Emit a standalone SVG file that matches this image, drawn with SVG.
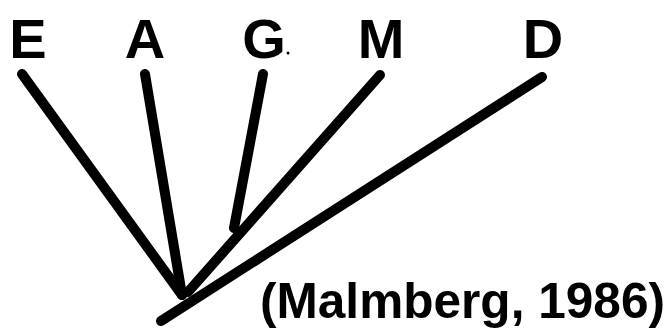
<svg xmlns="http://www.w3.org/2000/svg" width="671" height="331" viewBox="0 0 671 331">
<style>
.lbl{font-family:"Liberation Sans",Arial,sans-serif;font-weight:bold;font-size:56px;fill:#000;text-anchor:middle}
.cite{font-family:"Liberation Sans",Arial,sans-serif;font-weight:bold;font-size:50px;fill:#000}
.ln{stroke:#000;stroke-width:10;stroke-linecap:round;fill:none}
</style>
<rect width="671" height="331" fill="#fff"/>
<g id="connectors">
<line class="ln" x1="22" y1="74" x2="182" y2="295"/>
<line class="ln" x1="145" y1="74" x2="182" y2="295"/>
<line class="ln" x1="263" y1="74" x2="234" y2="228"/>
<line class="ln" x1="380" y1="75" x2="188" y2="292"/>
<line class="ln" x1="542" y1="77" x2="161" y2="321"/>
</g>
<g id="node-E"><text class="lbl" x="28" y="58">E</text></g>
<g id="node-A"><text class="lbl" x="145" y="58">A</text></g>
<g id="node-G"><text class="lbl" x="264" y="58">G</text><circle cx="288" cy="53" r="1.5" fill="#000"/></g>
<g id="node-M"><text class="lbl" x="381" y="58">M</text></g>
<g id="node-D"><text class="lbl" x="543" y="58">D</text></g>
<g id="citation"><text class="cite" x="260" y="318" textLength="405" lengthAdjust="spacingAndGlyphs">(Malmberg, 1986)</text></g>
</svg>
